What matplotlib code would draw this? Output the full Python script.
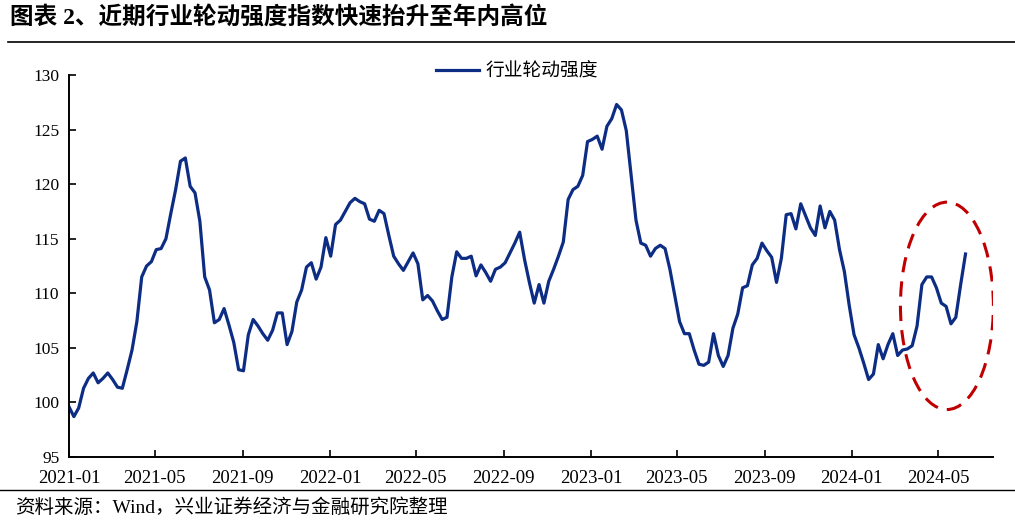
import numpy as np
import pandas as pd
import matplotlib
matplotlib.use('Agg')
import matplotlib.pyplot as plt
import matplotlib.dates as mdates
from matplotlib.patches import Ellipse

plt.rcParams['font.family'] = ['Liberation Serif', 'Noto Sans CJK SC']

# weekly industry rotation strength
rotation = [
    99.6, 98.7, 99.5, 101.3, 102.2, 102.7, 101.8, 102.2, 102.7, 102.1,
    101.4, 101.3, 103.0, 104.8, 107.4, 111.5, 112.5, 112.9, 114.0, 114.1,
    115.0, 117.3, 119.5, 122.1, 122.4, 119.8, 119.2, 116.6, 111.5, 110.3,
    107.3,
    107.6, 108.6, 107.1, 105.5, 103.0, 102.9, 106.2, 107.6, 107.0, 106.3,
    105.7, 106.6, 108.2, 108.2, 105.3, 106.5, 109.2, 110.3, 112.4, 112.8,
    111.3, 112.4, 115.1, 113.4, 116.3, 116.7, 117.5, 118.3, 118.7, 118.4,
    118.2,
    116.8, 116.6, 117.6, 117.3, 115.3, 113.4, 112.7, 112.1, 112.9, 113.7,
    112.7, 109.4, 109.8, 109.3, 108.4, 107.6, 107.8, 111.5, 113.8, 113.2,
    113.2, 113.4, 111.6, 112.6, 111.9, 111.1, 112.2, 112.4, 112.8, 113.7,
    114.6, 115.6,
    113.1, 111.0, 109.1, 110.8, 109.1, 111.1, 112.2, 113.4, 114.7, 118.6,
    119.5, 119.8, 120.8, 123.9, 124.1, 124.4, 123.2, 125.3, 126.0, 127.3,
    126.8, 124.9, 120.8, 116.7, 114.6, 114.4, 113.4, 114.1, 114.4, 114.1,
    112.2,
    109.8, 107.4, 106.3, 106.3, 104.8, 103.5, 103.4, 103.7, 106.3, 104.3,
    103.3, 104.3, 106.8, 108.1, 110.5, 110.7, 112.6, 113.2, 114.6, 113.9,
    113.3, 111.0, 113.2, 117.2, 117.3, 115.9, 118.2, 117.1, 116.0, 115.3,
    118.0, 116.0, 117.5, 116.7, 114.0, 112.0, 108.9, 106.2, 105.0, 103.6,
    102.1, 102.6, 105.3, 104.0, 105.3, 106.3, 104.3, 104.8, 104.9, 105.2,
    107.0, 110.8, 111.5, 111.5, 110.5, 109.1, 108.8, 107.2, 107.8, 110.8,
    113.6,
]
dates = pd.date_range('2021-01-01', '2024-06-08', periods=len(rotation))

title = '图表 2、近期行业轮动强度指数快速抬升至年内高位'
source = '资料来源：Wind，兴业证券经济与金融研究院整理'
series_name = '行业轮动强度'

fig = plt.figure(figsize=(10.15, 5.22), dpi=100)
ax = fig.add_axes([0.068, 0.1245, 0.910, 0.7318])

ax.plot(dates, rotation, color='#0c2d83', lw=2.3, label=series_name)

# highlight of the recent rebound
ell = Ellipse((mdates.date2num(pd.Timestamp('2024-05-13')), 108.85),
              width=130, height=19.0, fill=False, edgecolor='#c00000',
              lw=2.2, linestyle=(0, (5, 3)))
ax.add_patch(ell)

ax.set_ylim(95, 130)
ax.set_yticks(np.arange(95, 131, 5))
ax.set_xlim(pd.Timestamp('2021-01-01'), pd.Timestamp('2024-07-16'))
ax.xaxis.set_major_locator(mdates.MonthLocator(bymonth=[1, 5, 9]))
ax.xaxis.set_major_formatter(mdates.DateFormatter('%Y-%m'))

for s in ['top', 'right']:
    ax.spines[s].set_visible(False)
for s in ['left', 'bottom']:
    ax.spines[s].set_linewidth(1.4)
    ax.spines[s].set_color('black')
ax.tick_params(axis='both', direction='in', length=5, width=1.2,
               colors='black')
ax.tick_params(axis='x', pad=9, labelsize=13.5)
ax.tick_params(axis='y', pad=7, labelsize=12.5)

ax.legend(loc='center', bbox_to_anchor=(0.485, 1.01), frameon=False,
          prop={'family': ['Noto Sans CJK SC'], 'size': 13.5},
          handlelength=2.3, handletextpad=0.3)

fig.text(0.01, 0.967, title, fontsize=17, fontweight='bold', va='center', ha='left')
fig.add_artist(plt.Line2D([0.008, 1.0], [0.9195, 0.9195], color='black', lw=1.2))
fig.add_artist(plt.Line2D([0.0, 1.0], [0.061, 0.061], color='black', lw=1.0))
fig.text(0.015, 0.027, source, fontsize=14, va='center', ha='left')

fig.savefig('out.png', dpi=100)
